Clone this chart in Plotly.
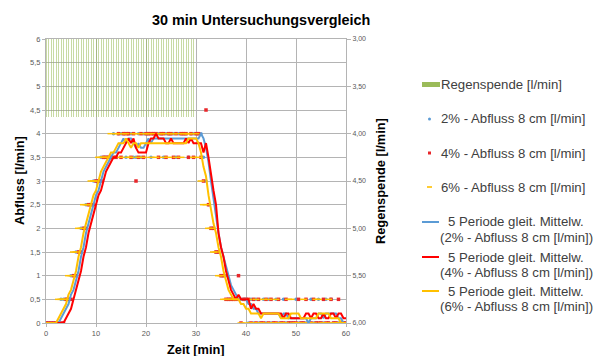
import plotly.graph_objects as go
import pandas as pd

# ---------------- data ----------------
time_min = [i * 0.5 for i in range(121)]          # sampling every 30 s, 0..60 min
rain_time = [i * 0.5 for i in range(60)]          # rain 0..29.5 min
rain = [3.82, 3.82, 3.82, 3.82, 3.82, 3.82, 3.82, 3.82, 3.82, 3.82,
        3.82, 3.82, 3.82, 3.82, 3.82, 3.82, 3.82, 3.82, 3.82, 3.82,
        3.82, 3.82, 3.82, 3.82, 3.82, 3.82, 3.82, 3.82, 3.82, 3.82,
        3.82, 3.82, 3.82, 3.82, 3.82, 3.82, 3.82, 3.82, 3.82, 3.82,
        3.82, 3.82, 3.82, 3.82, 3.82, 3.82, 3.82, 3.82, 3.82, 3.82,
        3.82, 3.82, 3.82, 3.82, 3.82, 3.82, 3.82, 3.82, 3.82, 3.82]

q2 = [0, 0, 0, 0, 0, 0, 0.5, 0.5, 0.5, 0.5,
      1, 1, 1.5, 1.5, 2, 2, 2.5, 2.5, 2.5, 3,
      3, 3, 3.5, 3.5, 3.5, 3.5, 3.5, 4, 3.5, 4,
      4, 4, 3.5, 4, 4, 3.5, 3.5, 4, 3.5, 4,
      4, 4, 3.5, 4, 4, 4, 4, 3.5, 4, 4,
      4, 4, 3.5, 4, 4, 4, 4, 3.5, 4, 4,
      4, 4, 4, 3.5, 3, 2.5, 2, 2, 1.5, 1.5,
      1, 1, 1, 0.5, 0.5, 0.5, 0.5, 0.5, 0.5, 0.5,
      0.5, 0, 0.5, 0, 0.5, 0, 0, 0.5, 0, 0.5,
      0, 0, 0.5, 0, 0, 0.5, 0, 0, 0, 0,
      0.5, 0, 0, 0, 0, 0, 0.5, 0, 0, 0.5,
      0, 0, 0.5, 0, 0.5, 0, 0, 0, 0, 0,
      0]

q4 = [0, 0, 0, 0, 0, 0, 0, 0, 0.5, 0.5,
      0.5, 1, 1, 1.5, 1.5, 2, 2, 2.5, 2.5, 2.5,
      3, 3, 3, 3.5, 3.5, 3.5, 3.5, 3.5, 3.5, 4,
      3.5, 4, 4, 4, 3.5, 4, 3, 3.5, 4, 3.5,
      4, 4, 4, 4, 4, 3.5, 4, 4, 3.5, 4,
      4, 3.5, 4, 3.5, 4, 4, 4, 3.5, 4, 3.5,
      4, 4, 3.5, 3, 4.5, 2.5, 2, 2, 1.5, 1.5,
      1, 1, 0.5, 0.5, 0.5, 0.5, 0.5, 1, 0, 0.5,
      0.5, 0.5, 0, 0.5, 0, 0.5, 0, 0, 0.5, 0,
      0.5, 0, 0, 0.5, 0, 0, 0.5, 0, 0, 0,
      0, 0.5, 0, 0, 0.5, 0, 0, 0.5, 0, 0,
      0, 0.5, 0, 0, 0.5, 0, 0, 0.5, 0, 0,
      0]

q6 = [0, 0, 0, 0, 0, 0.5, 0.5, 0.5, 0.5, 1,
      1, 1.5, 1.5, 2, 2, 2.5, 2.5, 2.5, 3, 3,
      3, 3.5, 3.5, 3.5, 3.5, 3.5, 4, 3.5, 4, 4,
      3.5, 4, 4, 3.5, 3.5, 4, 4, 3.5, 4, 3.5,
      4, 4, 3.5, 4, 3.5, 4, 4, 3.5, 4, 3.5,
      4, 4, 3.5, 4, 3.5, 4, 4, 4, 4, 3.5,
      4, 3.5, 3, 2.5, 2.5, 2, 2, 1.5, 1.5, 1,
      1, 0.5, 0.5, 0.5, 0.5, 0.5, 0.5, 0.5, 0, 0.5,
      0, 0.5, 0, 0, 0.5, 0, 0, 0.5, 0, 0.5,
      0, 0, 0.5, 0, 0, 0, 0, 0.5, 0.5, 0,
      0, 0, 0, 0.5, 0, 0, 0, 0, 0.5, 0.5,
      0, 0, 0, 0.5, 0, 0, 0, 0, 0, 0,
      0]

left_ticks = [0, 0.5, 1, 1.5, 2, 2.5, 3, 3.5, 4, 4.5, 5, 5.5, 6]
left_labels = ["0", "0,5", "1", "1,5", "2", "2,5", "3", "3,5", "4", "4,5", "5", "5,5", "6"]
right_ticks = [3, 3.5, 4, 4.5, 5, 5.5, 6]
right_labels = ["3,00", "3,50", "4,00", "4,50", "5,00", "5,50", "6,00"]
x_ticks = [0, 10, 20, 30, 40, 50, 60]
x_labels = ["0", "10", "20", "30", "40", "50", "60"]

names = ["2% - Abfluss 8 cm [l/min]", "4% - Abfluss 8 cm [l/min]", "6% - Abfluss 8 cm [l/min]"]

# ---------------- style ----------------
FONT = "Liberation Sans, Arial, sans-serif"
C_BLUE = "#5b9bd5"
C_RED = "#ff0000"
C_YEL = "#ffc000"
C_GREEN = "#9bbb59"
GRID = "#b4b4b4"
TICKC = "#595959"

L, R, T, B = 46, 346, 39, 323
W, H = R - L, B - T


def px(x):
    return (x - L) / W


def py(y):
    return (B - y) / H


fig = go.Figure()

# rain bars on secondary (reversed) axis
fig.add_trace(go.Bar(x=rain_time, y=rain, yaxis="y2", width=0.2,
                     marker=dict(color="rgba(155,187,89,0.55)", line=dict(width=0)),
                     showlegend=False))

# raw measurement markers
fig.add_trace(go.Scatter(x=time_min, y=q2, mode="markers",
                         marker=dict(symbol="circle", size=3.5, color=C_BLUE, line=dict(width=0)),
                         showlegend=False))
fig.add_trace(go.Scatter(x=time_min, y=q4, mode="markers",
                         marker=dict(symbol="square", size=3.5, color="#e8262a", line=dict(width=0)),
                         showlegend=False))
fig.add_trace(go.Scatter(x=time_min, y=q6, mode="markers",
                         marker=dict(symbol="line-ew", size=5, color=C_YEL,
                                     line=dict(width=1.5, color=C_YEL)),
                         showlegend=False))

# 5-period moving averages (Excel trendline)
for series, col in ((q2, C_BLUE), (q4, C_RED), (q6, C_YEL)):
    ma = pd.Series(series).rolling(5).mean().round(3)
    fig.add_trace(go.Scatter(x=time_min[4:], y=list(ma[4:]), mode="lines",
                             line=dict(color=col, width=2), showlegend=False))

# ---------------- layout ----------------
fig.update_layout(
    width=601, height=356, autosize=False,
    margin=dict(l=L, r=601 - R, t=T, b=356 - B),
    paper_bgcolor="white", plot_bgcolor="white",
    font=dict(family=FONT, color="#404040"),
    showlegend=False, bargap=0,
    xaxis=dict(range=[0, 60], tickvals=x_ticks, ticktext=x_labels,
               showgrid=True, gridcolor=GRID, gridwidth=1, zeroline=False,
               showline=True, linecolor=GRID, linewidth=1, mirror=True,
               ticks="outside", ticklen=3, tickcolor=GRID,
               tickfont=dict(size=7.5, color=TICKC, family=FONT)),
    yaxis=dict(range=[0, 6], tickvals=left_ticks, ticktext=left_labels,
               showgrid=True, gridcolor=GRID, gridwidth=1, zeroline=False,
               showline=True, linecolor=GRID, linewidth=1,
               ticks="outside", ticklen=3, tickcolor=GRID,
               tickfont=dict(size=7.5, color=TICKC, family=FONT)),
    yaxis2=dict(range=[6, 3], overlaying="y", side="right",
                tickvals=right_ticks, ticktext=right_labels,
                showgrid=False, zeroline=False,
                showline=True, linecolor=GRID, linewidth=1,
                ticks="outside", ticklen=4, tickcolor=GRID,
                tickfont=dict(size=7, color=TICKC, family=FONT)),
)

ann = []
# title
ann.append(dict(x=px(261), y=py(20), xref="paper", yref="paper", showarrow=False,
                text="<b>30 min Untersuchungsvergleich</b>",
                font=dict(size=14.4, color="#000000", family=FONT),
                xanchor="center", yanchor="middle"))
# axis titles
ann.append(dict(x=px(19), y=py(181), xref="paper", yref="paper", showarrow=False,
                text="<b>Abfluss [l/min]</b>", textangle=-90,
                font=dict(size=12.8, color="#000000", family=FONT),
                xanchor="center", yanchor="middle"))
ann.append(dict(x=px(380), y=py(181), xref="paper", yref="paper", showarrow=False,
                text="<b>Regenspende [l/min]</b>", textangle=-90,
                font=dict(size=12.8, color="#000000", family=FONT),
                xanchor="center", yanchor="middle"))
ann.append(dict(x=px(196), y=py(349), xref="paper", yref="paper", showarrow=False,
                text="<b>Zeit [min]</b>",
                font=dict(size=12.8, color="#000000", family=FONT),
                xanchor="center", yanchor="middle"))

# manual legend
LEG_FONT = dict(size=13.2, color="#404040", family=FONT)
single = [("Regenspende [l/min]", 84), (names[0], 119), (names[1], 153), (names[2], 187)]
for txt, yy in single:
    ann.append(dict(x=px(439), y=py(yy), xref="paper", yref="paper", showarrow=False,
                    text=txt, font=LEG_FONT, xanchor="left", yanchor="middle"))
double = [(names[0], 222), (names[1], 257), (names[2], 291)]
for txt, yy in double:
    ann.append(dict(x=px(516), y=py(yy), xref="paper", yref="paper", showarrow=False,
                    text="5 Periode gleit. Mittelw.", font=LEG_FONT,
                    xanchor="center", yanchor="middle"))
    ann.append(dict(x=px(516), y=py(yy + 15.6), xref="paper", yref="paper", showarrow=False,
                    text="(" + txt + ")", font=LEG_FONT,
                    xanchor="center", yanchor="middle"))

shapes = []
shapes.append(dict(type="rect", xref="paper", yref="paper",
                   x0=px(422), x1=px(440), y0=py(87), y1=py(82),
                   fillcolor=C_GREEN, line=dict(width=0)))
shapes.append(dict(type="circle", xref="paper", yref="paper",
                   x0=px(428), x1=px(431), y0=py(120.5), y1=py(117.5),
                   fillcolor=C_BLUE, line=dict(width=0)))
shapes.append(dict(type="rect", xref="paper", yref="paper",
                   x0=px(428), x1=px(431), y0=py(154.5), y1=py(151.5),
                   fillcolor="#e8262a", line=dict(width=0)))
shapes.append(dict(type="line", xref="paper", yref="paper",
                   x0=px(427), x1=px(432), y0=py(187), y1=py(187),
                   line=dict(color=C_YEL, width=1.6)))
for col, yy in ((C_BLUE, 222), (C_RED, 257), (C_YEL, 291)):
    shapes.append(dict(type="line", xref="paper", yref="paper",
                       x0=px(422), x1=px(439), y0=py(yy), y1=py(yy),
                       line=dict(color=col, width=2)))

fig.update_layout(annotations=ann, shapes=shapes)

fig.write_html("out.html")
